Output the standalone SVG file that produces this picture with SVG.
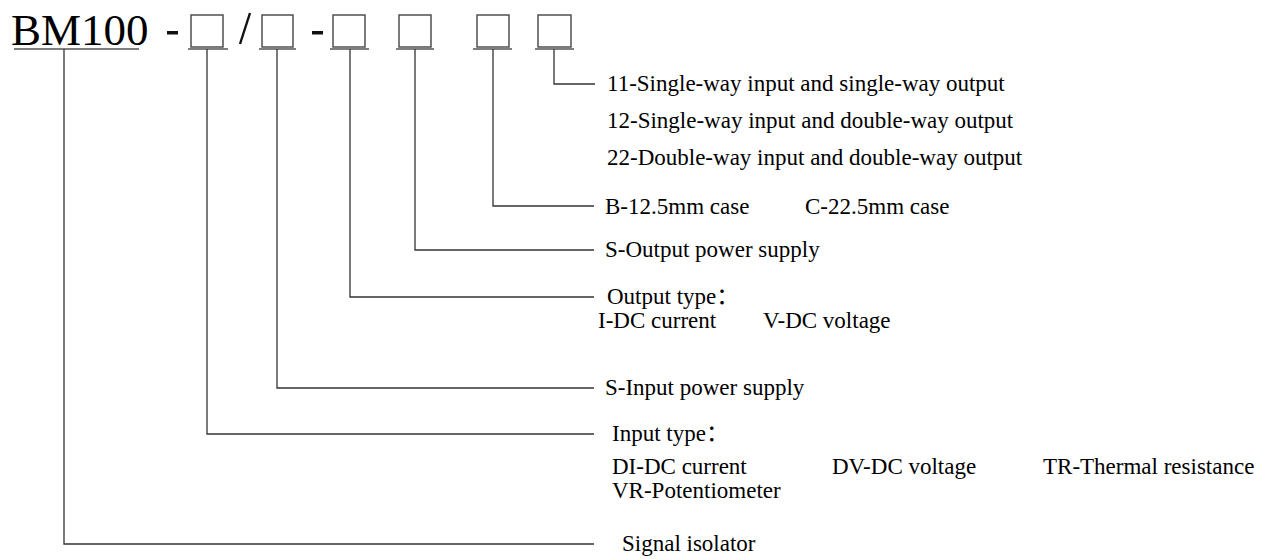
<svg xmlns="http://www.w3.org/2000/svg" width="1265" height="559" viewBox="0 0 1265 559">
<style>
text{font-family:"Liberation Serif","Noto Sans CJK SC",serif;fill:#000}
.lbl{font-size:23px}
.big{font-size:45px}
.box{fill:none;stroke:#444;stroke-width:1.4}
.ul{stroke:#555;stroke-width:1.6}
.conn{fill:none;stroke:#333;stroke-width:1.3}
</style>
<rect width="1265" height="559" fill="#fff"/>
<g id="code">
<text class="big" x="11" y="45">BM100</text>
<line class="ul" x1="14" y1="49" x2="139" y2="49"/>
<rect x="167" y="31" width="11" height="3.5" fill="#111"/>
<line x1="250" y1="13" x2="240" y2="44" stroke="#111" stroke-width="2.4"/>
<rect x="312" y="31" width="11" height="3.5" fill="#111"/>
</g>
<g id="box1"><rect class="box" x="191" y="15" width="32" height="32"/><line class="ul" x1="188" y1="49" x2="228" y2="49"/></g>
<g id="box2"><rect class="box" x="262" y="15" width="31" height="32"/><line class="ul" x1="259" y1="49" x2="296" y2="49"/></g>
<g id="box3"><rect class="box" x="333" y="15" width="32" height="32"/><line class="ul" x1="330" y1="49" x2="369" y2="49"/></g>
<g id="box4"><rect class="box" x="399" y="15" width="32" height="32"/><line class="ul" x1="396" y1="49" x2="434" y2="49"/></g>
<g id="box5"><rect class="box" x="477" y="15" width="32" height="32"/><line class="ul" x1="473" y1="49" x2="512" y2="49"/></g>
<g id="box6"><rect class="box" x="538" y="15" width="33" height="32"/><line class="ul" x1="535" y1="49" x2="574" y2="49"/></g>
<g id="connectors">
<polyline class="conn" points="554,49 554,84 595,84"/>
<polyline class="conn" points="493,49 493,206 594,206"/>
<polyline class="conn" points="415,49 415,250 594,250"/>
<polyline class="conn" points="350,49 350,297 594,297"/>
<polyline class="conn" points="277,49 277,388 594,388"/>
<polyline class="conn" points="207,49 207,434 594,434"/>
<polyline class="conn" points="64,49 64,544 594,544"/>
</g>
<g id="way">
<text class="lbl" x="607" y="91">11-Single-way input and single-way output</text>
<text class="lbl" x="607" y="128">12-Single-way input and double-way output</text>
<text class="lbl" x="607" y="165">22-Double-way input and double-way output</text>
</g>
<g id="case">
<text class="lbl" x="605" y="214">B-12.5mm case</text>
<text class="lbl" x="805" y="214">C-22.5mm case</text>
</g>
<g id="out-power"><text class="lbl" x="605" y="257">S-Output power supply</text></g>
<g id="out-type">
<text class="lbl" x="607" y="304">Output type：</text>
<text class="lbl" x="598" y="328">I-DC current</text>
<text class="lbl" x="763" y="328">V-DC voltage</text>
</g>
<g id="in-power"><text class="lbl" x="605" y="395">S-Input power supply</text></g>
<g id="in-type">
<text class="lbl" x="612" y="441">Input type：</text>
<text class="lbl" x="612" y="474">DI-DC current</text>
<text class="lbl" x="832" y="474">DV-DC voltage</text>
<text class="lbl" x="1043" y="474">TR-Thermal resistance</text>
<text class="lbl" x="612" y="498">VR-Potentiometer</text>
</g>
<g id="isolator"><text class="lbl" x="622" y="551">Signal isolator</text></g>
</svg>
